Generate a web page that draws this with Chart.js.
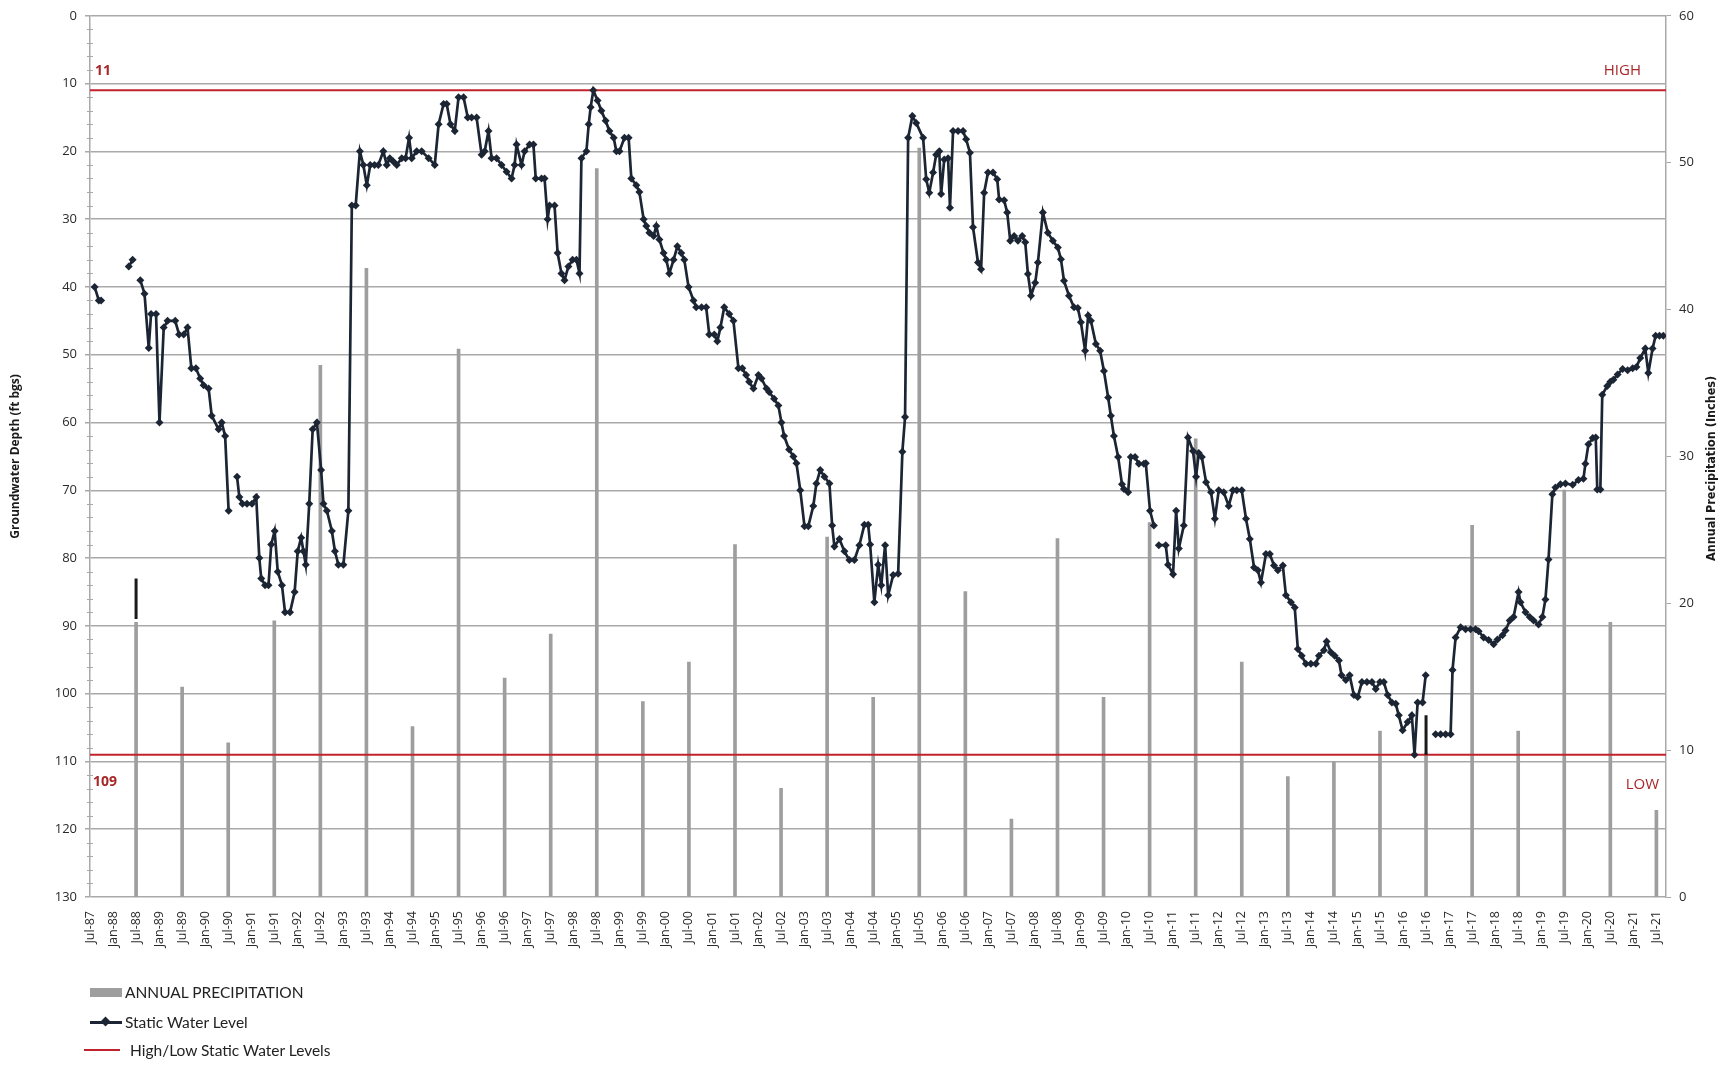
<!DOCTYPE html>
<html>
<head>
<meta charset="utf-8">
<title>Static Water Level and Annual Precipitation</title>
<script src="https://cdn.jsdelivr.net/npm/chart.js@4.4.1/dist/chart.umd.min.js"></script>
<style>
  body { margin: 0; background: #fff; }
  #wrap { position: relative; width: 1733px; height: 1066px; }
  #legend { position: absolute; left: 0; top: 0; font-family: Lato, "Open Sans", sans-serif; font-size: 15.5px; color: #222; }
  .item { position: absolute; height: 20px; display: flex; align-items: center; white-space: nowrap; }
</style>
</head>
<body>
<div id="wrap">
  <canvas id="levelChart" width="1733" height="1066"></canvas>
  <div id="legend"></div>
</div>
<script>
// x positions are months counted from Jul-1987
const tickLabels = ['Jul-87','Jan-88','Jul-88','Jan-89','Jul-89','Jan-90','Jul-90','Jan-91','Jul-91','Jan-92',
  'Jul-92','Jan-93','Jul-93','Jan-94','Jul-94','Jan-95','Jul-95','Jan-96','Jul-96','Jan-97',
  'Jul-97','Jan-98','Jul-98','Jan-99','Jul-99','Jan-00','Jul-00','Jan-01','Jul-01','Jan-02',
  'Jul-02','Jan-03','Jul-03','Jan-04','Jul-04','Jan-05','Jul-05','Jan-06','Jul-06','Jan-07',
  'Jul-07','Jan-08','Jul-08','Jan-09','Jul-09','Jan-10','Jul-10','Jan-11','Jul-11','Jan-12',
  'Jul-12','Jan-13','Jul-13','Jan-14','Jul-14','Jan-15','Jul-15','Jan-16','Jul-16','Jan-17',
  'Jul-17','Jan-18','Jul-18','Jan-19','Jul-19','Jan-20','Jul-20','Jan-21','Jul-21'];

const precipYears = [1988,1989,1990,1991,1992,1993,1994,1995,1996,1997,
  1998,1999,2000,2001,2002,2003,2004,2005,2006,2007,
  2008,2009,2010,2011,2012,2013,2014,2015,2016,2017,
  2018,2019,2020,2021];
const precipInches = [18.7,14.3,10.5,18.8,36.2,42.8,11.6,37.3,14.9,17.9,
  49.6,13.3,16.0,24.0,7.4,24.5,13.6,51.0,20.8,5.3,
  24.4,13.6,25.5,31.2,16.0,8.2,9.2,11.3,9.8,25.3,
  11.3,27.7,18.7,5.9];

// static water level readings (ft below ground surface); null = no reading, line breaks
const levelMonth = [1.2,2.3,2.9,6,10.1,11.1,12.1,13.1,14.2,15.3,
  15.9,17.2,18.1,19.2,20.2,22.2,23.2,24.4,25.4,26.4,
  27.6,28.7,29.6,30.9,31.7,33.5,34.3,35.2,36.1,37.2,
  38.3,38.9,39.7,40.9,42.2,43.3,44.1,44.6,45.6,46.5,
  47.2,48.1,48.9,50,50.8,52.1,53.3,54.1,55,55.6,
  56.2,57.1,58,59.1,60.2,60.8,61.7,63,63.8,64.7,
  66,67.3,68.2,69.2,70.3,71.2,72.1,73,74.1,75.1,
  76.4,77.3,78.1,79,79.9,81.2,82.2,83.1,83.8,85.1,
  86.4,88.2,89.8,90.8,92.1,92.9,93.9,95,96,97.3,
  98.4,99.4,100.7,102,102.8,103.8,104.6,105.9,107.2,108.5,
  109.8,110.6,111.1,112.4,113.2,114.5,115.5,116.1,117.6,118.4,
  119.2,119.7,121,121.8,122.8,123.6,124.6,125.7,126.7,127.5,
  128,129.3,129.9,130.4,131.1,132.2,133.2,134.3,135.3,136.4,
  137.1,137.9,139.2,140.3,141,142.3,143.1,144.2,144.9,145.7,
  146.8,147.5,148.3,149.4,150.1,150.9,152,153,154,154.8,
  155.9,157.2,157.9,159.3,160.5,161.3,162.6,163.4,164.2,165.2,
  166.5,167.6,168.9,169.9,170.9,171.7,172.8,174.1,174.9,176.2,
  176.9,178.2,179.3,180.1,180.8,182.1,183.2,184,185,186.1,
  187.1,188.4,189.2,190.2,191.3,192.6,193.3,193.9,195.2,196.5,
  197.8,199.1,200.4,201.7,202.7,203.2,204.3,205.3,206.1,207.1,
  207.9,209.2,210.5,211.6,212.3,213.1,214.2,215.2,217,217.8,
  218.6,219.6,220.4,221.2,221.7,222.5,223.5,224,224.8,226.1,
  227.4,228.2,229.2,230,231.3,232.1,232.9,233.9,235.2,236.3,
  236.8,238.1,238.9,239.7,240.7,241.7,242.8,243.6,244.3,245.1,
  246.2,246.9,248.2,249.5,250.8,252.1,252.9,253.7,255,256.3,
  257.3,258.1,259.2,260,260.7,262,263.1,264.1,265.2,265.9,
  266.7,267.8,268.8,269.3,270.4,271.1,272.2,273.2,274.5,275,
  276.1,277.1,277.8,278.4,280.2,280.8,282.1,282.9,283.6,284.9,
  286,287.3,288.1,288.8,289.6,290.7,292,293,294,295.3,
  296.6,297.7,298.7,300,301.1,302.1,303.2,304.2,305,306.3,
  307.3,308.4,309.4,310.7,311.5,312.8,313.8,314.6,315.6,316.7,
  318,319.3,320.1,321.4,322.1,323.2,324.2,325.3,326,327.1,
  328.1,329.2,330.2,331.3,332.6,333.9,334.9,336,337,338,
  339.1,340.1,340.9,341.9,343.2,344.3,345,345.8,347.1,347.9,
  349.2,350.5,351.8,353.1,354.4,354.9,355.7,357,358.3,359.6,
  360.9,361.7,363,364.3,365.6,366.6,367.9,368.7,369.8,370.8,
  372.1,372.6,373.9,375,376,377.3,378.3,379.1,379.9,380.9,
  381.7,383,384.3,386.2,387.7,389,389.5,390.3,391.4,392.2,
  392.6,393.4,393.9,395.2,396,396.8,397.9,399.2,400.5,401.8,
  402.8,403.8,405.1,405.9,407,407.8,408.8,409.8];
const levelDepth = [40,42,42,null,37,36,null,39,41,49,
  44,44,60,46,45,45,47,47,46,52,
  52,53.5,54.5,55,59,61,60,62,73,null,
  68,71,72,72,72,71,80,83,84,84,
  78,76,82,84,88,88,85,79,77,79,
  81,72,61,60,67,72,73,76,79,81,
  81,73,28,28,20,22,25,22,22,22,
  20,22,21,21.5,22,21,21,18,21,20,
  20,21,22,16,13,13,16,17,12,12,
  15,15,15,20.5,20,17,21,21,22,23,
  24,22,19,22,20,19,19,24,24,24,
  30,28,28,35,38,39,37,36,36,38,
  21,20,16,13.5,11,12.5,14,15.5,17,18,
  20,20,18,18,24,25,26,30,31,32,
  32.5,31,33,35,36,38,36,34,35,36,
  40,42,43,43,43,47,47,48,46,43,
  44,45,52,52,53,54,55,53,53.5,55,
  55.5,56.5,57.5,60,62,64,65,66,70,75.3,
  75.3,72.3,69,67,68,69,75.2,78.3,77.2,79,
  80.3,80.3,78.1,75.1,75.1,78,86.5,81,84,78.1,
  85.5,82.5,82.3,64.3,59.2,18,14.8,15.8,18,24.1,
  26.1,23.1,20.5,20,26.3,21.2,21,28.3,17,17,
  17,18.2,20.2,31.2,36.4,37.4,26.1,23.1,23.1,24.1,
  27.1,27.2,29,33.2,32.5,33.2,32.5,33.4,38.1,41.3,
  39.4,36.4,29,32,33.2,34.2,35.9,39.1,41.3,43,
  43.1,45.2,49.4,44.2,45,48.4,49.4,52.4,56.3,59,
  62,65.1,69.1,69.8,70.3,65.1,65.1,66.1,66.1,66,
  73,75.2,null,78.1,78.1,81,82.4,73,78.6,75.2,
  62.2,64.2,68,64.5,65.1,68.8,70.3,74.2,70,70.3,
  72.3,70,70,70,74.2,77.2,81.4,81.8,83.6,79.4,
  79.4,81.1,81.8,81.1,85.5,86.5,87.3,93.4,94.4,95.6,
  95.6,95.6,94.4,93.6,92.3,93.9,94.4,95.1,97.3,98,
  97.3,100.2,100.5,98.3,98.3,98.3,99.3,98.3,98.3,100.2,
  101.3,101.5,103.2,105.4,104.2,103.2,109,101.3,101.3,97.3,
  null,106,106,106,106,96.5,91.7,90.2,90.5,90.5,
  90.5,90.8,91.7,92.1,92.7,92,91.4,90.7,89.2,88.7,
  85,86.5,88,88.7,89.2,89.8,88.7,86.1,80.2,70.6,
  69.6,69.1,69,69.2,68.5,68.3,66.1,63.2,62.3,62.2,
  69.9,69.9,55.9,54.6,54,53.7,52.9,52.1,52.3,52,
  51.8,50.5,49.1,52.7,49.1,47.2,47.2,47.2];

// short black marks drawn at Jul-88 and Jul-16
const markMonth = [12, 12, 200, 348, 348];
const markDepth = [83, 89, null, 103.2, 109];

const highLevel = 11;
const lowLevel = 109;
const xMax = 410.5;

const tickMonth = tickLabels.map((_, i) => i * 6);
const gridGray = '#a9a9a9';
const levelColor = '#1c2533';
const limitRed = '#c0232b';
const noteRed = '#a8282a';

const overlay = {
  id: 'overlay',
  afterDraw(chart) {
    const { ctx, chartArea, scales } = chart;
    const y = scales.y;
    ctx.save();
    // minor ticks on the depth axis
    ctx.strokeStyle = gridGray;
    ctx.lineWidth = 1;
    for (let v = 2; v < 130; v += 2) {
      if (v % 10 === 0) continue;
      const py = Math.round(y.getPixelForValue(v)) + 0.5;
      ctx.beginPath();
      ctx.moveTo(chartArea.left - 3, py);
      ctx.lineTo(chartArea.left + 3, py);
      ctx.stroke();
    }
    // high / low notes
    ctx.fillStyle = noteRed;
    ctx.textBaseline = 'middle';
    const yHigh = y.getPixelForValue(highLevel);
    const yLow = y.getPixelForValue(lowLevel);
    ctx.font = 'bold 14px "Open Sans", sans-serif';
    ctx.textAlign = 'left';
    ctx.fillText(String(highLevel), chartArea.left + 5, yHigh - 19);
    ctx.fillText(String(lowLevel), chartArea.left + 3, yLow + 27);
    ctx.font = '15px "Open Sans", sans-serif';
    ctx.textAlign = 'right';
    ctx.fillText('HIGH', chartArea.right - 25, yHigh - 20);
    ctx.fillText('LOW', chartArea.right - 7, yLow + 30);
    // right axis title, reading bottom to top
    ctx.fillStyle = '#1a1a1a';
    ctx.translate(chart.width - 21, (chartArea.top + chartArea.bottom) / 2 + 12);
    ctx.rotate(-Math.PI / 2);
    ctx.textAlign = 'center';
    ctx.font = 'bold 12.5px "Liberation Sans Narrow", "DejaVu Sans Condensed", sans-serif';
    ctx.fillText('Annual Precipitation (Inches)', 0, 0);
    ctx.restore();
  }
};

const tickFont = { family: '"Open Sans", sans-serif', size: 13 };

const chart = new Chart(document.getElementById('levelChart'), {
  type: 'bar',
  data: {
    datasets: [
      {
        type: 'line',
        label: 'Static Water Level',
        yAxisID: 'y',
        data: levelMonth.map((m, i) => ({ x: m, y: levelDepth[i] })),
        borderColor: levelColor,
        backgroundColor: levelColor,
        borderWidth: 2.7,
        pointStyle: 'rectRot',
        pointRadius: 4,
        pointBorderWidth: 0,
        spanGaps: false,
        tension: 0,
        order: 1
      },
      {
        type: 'line',
        label: 'marks',
        yAxisID: 'y',
        data: markMonth.map((m, i) => ({ x: m, y: markDepth[i] })),
        borderColor: '#1a1a1a',
        borderWidth: 3,
        pointRadius: 0,
        spanGaps: false,
        order: 1
      },
      {
        type: 'line',
        label: 'High/Low Static Water Levels',
        yAxisID: 'y',
        data: [{ x: 0, y: highLevel }, { x: xMax, y: highLevel }],
        borderColor: limitRed,
        borderWidth: 2,
        pointRadius: 0,
        order: 2
      },
      {
        type: 'line',
        label: 'low',
        yAxisID: 'y',
        data: [{ x: 0, y: lowLevel }, { x: xMax, y: lowLevel }],
        borderColor: limitRed,
        borderWidth: 2,
        pointRadius: 0,
        order: 2
      },
      {
        type: 'bar',
        label: 'ANNUAL PRECIPITATION',
        yAxisID: 'yPrecip',
        data: precipYears.map((yr, i) => ({ x: (yr - 1987) * 12, y: precipInches[i] })),
        backgroundColor: '#9e9e9e',
        barThickness: 3,
        order: 3
      }
    ]
  },
  options: {
    responsive: false,
    animation: false,
    layout: { padding: { top: 13, left: 0, right: 0, bottom: 0 } },
    plugins: { legend: { display: false }, tooltip: { enabled: false } },
    scales: {
      x: {
        type: 'linear',
        min: 0,
        max: xMax,
        offset: false,
        grid: { display: false, offset: false },
        border: { display: false },
        afterBuildTicks: s => { s.ticks = tickMonth.map(v => ({ value: v })); },
        ticks: {
          autoSkip: false,
          maxRotation: 90,
          minRotation: 90,
          padding: 6,
          color: '#2a2a2a',
          font: { family: '"Open Sans", sans-serif', size: 12.5 },
          callback: (v, i) => tickLabels[i]
        },
        afterFit: s => { s.height = 169; }
      },
      y: {
        position: 'left',
        reverse: true,
        min: 0,
        max: 130,
        ticks: { stepSize: 10, padding: 8, color: '#2a2a2a', font: tickFont },
        grid: { color: gridGray, lineWidth: 1.5, tickLength: 5 },
        border: { color: gridGray, width: 1.5 },
        title: {
          display: true,
          text: 'Groundwater Depth (ft bgs)',
          color: '#1a1a1a',
          font: { family: '"Open Sans", sans-serif', size: 12, weight: 'bold' },
          padding: { top: 8, bottom: 0 }
        },
        afterFit: s => { s.width = 90; }
      },
      yPrecip: {
        position: 'right',
        min: 0,
        max: 60,
        ticks: { stepSize: 10, padding: 8, color: '#2a2a2a', font: tickFont },
        grid: { drawOnChartArea: false, color: gridGray, tickLength: 5 },
        border: { color: gridGray, width: 1.5 },
        afterFit: s => { s.width = 67; }
      }
    }
  },
  plugins: [overlay]
});

// legend, one entry per row as in the original
const legendEl = document.getElementById('legend');
const [levelSet, , limitSet, , precipSet] = chart.data.datasets;
const rows = [
  { top: 982, left: 90, gap: 3, text: precipSet.label,
    key: `<span style="display:inline-block;width:32px;height:9px;background:${precipSet.backgroundColor};filter:blur(0.6px)"></span>` },
  { top: 1012, left: 90, gap: 3, text: levelSet.label,
    key: `<span style="position:relative;display:inline-block;width:32px;height:3px;background:${levelSet.borderColor}">` +
         `<span style="position:absolute;left:12px;top:-3px;width:7px;height:7px;background:${levelSet.borderColor};transform:rotate(45deg)"></span></span>` },
  { top: 1040, left: 84, gap: 10, text: limitSet.label,
    key: `<span style="display:inline-block;width:36px;height:2px;background:${limitSet.borderColor}"></span>` }
];
rows.forEach(r => {
  const div = document.createElement('div');
  div.className = 'item';
  div.style.top = r.top + 'px';
  div.style.left = r.left + 'px';
  div.innerHTML = r.key + `<span style="margin-left:${r.gap}px">${r.text}</span>`;
  legendEl.appendChild(div);
});
</script>
</body>
</html>
